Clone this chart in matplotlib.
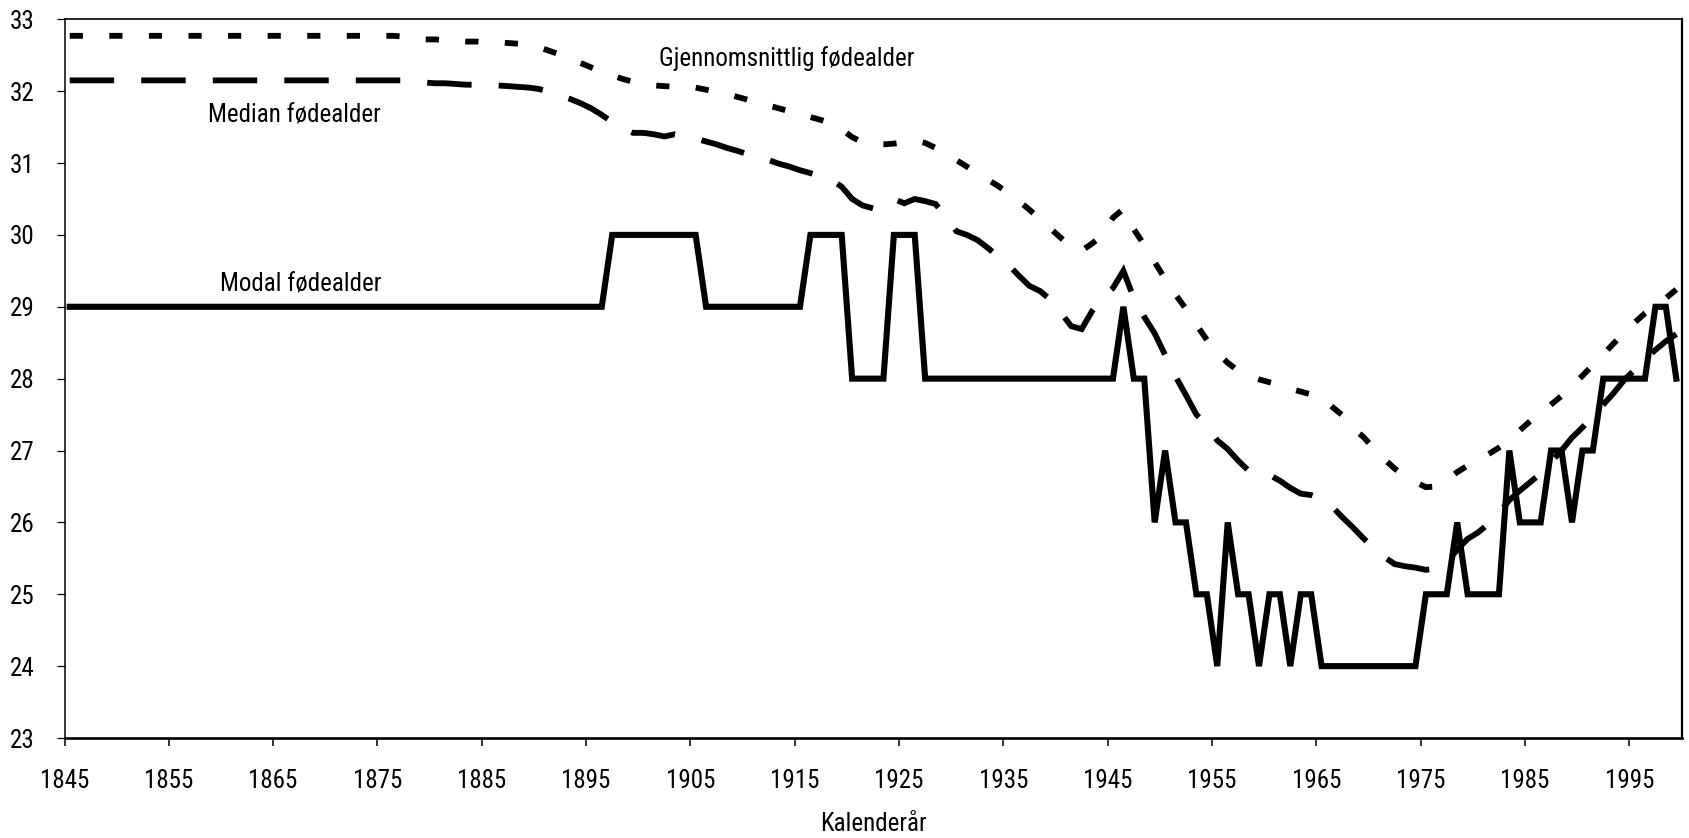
import numpy as np
import matplotlib
matplotlib.use('Agg')
import matplotlib.pyplot as plt
from matplotlib import font_manager as fm

plt.rcParams['lines.scale_dashes'] = False

# Kalenderår 1845-1999
years = np.arange(1845, 2000)

gjennomsnitt = [
    32.77, 32.77, 32.77, 32.77, 32.77, 32.77, 32.77, 32.77, 32.77, 32.77,  # 1845-
    32.77, 32.77, 32.77, 32.77, 32.77, 32.77, 32.77, 32.77, 32.77, 32.77,  # 1855-
    32.77, 32.77, 32.77, 32.77, 32.77, 32.77, 32.77, 32.77, 32.77, 32.77,  # 1865-
    32.77, 32.77, 32.76, 32.74, 32.72, 32.72, 32.71, 32.70, 32.69, 32.69,  # 1875-
    32.68, 32.68, 32.67, 32.66, 32.64, 32.61, 32.56, 32.51, 32.45, 32.39,  # 1885-
    32.33, 32.27, 32.22, 32.17, 32.13, 32.10, 32.08, 32.07, 32.06, 32.05,  # 1895-
    32.05, 32.02, 31.99, 31.96, 31.92, 31.88, 31.84, 31.80, 31.76, 31.72,  # 1905-
    31.68, 31.64, 31.60, 31.55, 31.47, 31.36, 31.29, 31.26, 31.26, 31.27,  # 1915-
    31.29, 31.31, 31.28, 31.21, 31.13, 31.04, 30.95, 30.86, 30.77, 30.68,  # 1925-
    30.58, 30.47, 30.35, 30.22, 30.09, 29.96, 29.83, 29.78, 29.88, 30.00,  # 1935-
    30.24, 30.36, 30.08, 29.86, 29.62, 29.39, 29.17, 28.97, 28.75, 28.54,  # 1945-
    28.36, 28.22, 28.11, 28.04, 27.99, 27.95, 27.91, 27.86, 27.82, 27.78,  # 1955-
    27.74, 27.61, 27.49, 27.31, 27.19, 27.03, 26.88, 26.75, 26.64, 26.56,  # 1965-
    26.49, 26.50, 26.59, 26.70, 26.79, 26.87, 26.95, 27.04, 27.14, 27.28,  # 1975-
    27.41, 27.52, 27.64, 27.76, 27.90, 28.04, 28.19, 28.34, 28.49, 28.64,  # 1985-
    28.78, 28.91, 29.02, 29.12, 29.24,                                     # 1995-
]

median = [
    32.15, 32.15, 32.15, 32.15, 32.15, 32.15, 32.15, 32.15, 32.15, 32.15,  # 1845-
    32.15, 32.15, 32.15, 32.15, 32.15, 32.15, 32.15, 32.15, 32.15, 32.15,  # 1855-
    32.15, 32.15, 32.15, 32.15, 32.15, 32.15, 32.15, 32.15, 32.15, 32.15,  # 1865-
    32.15, 32.15, 32.15, 32.13, 32.12, 32.11, 32.11, 32.10, 32.09, 32.09,  # 1875-
    32.08, 32.08, 32.07, 32.06, 32.05, 32.03, 31.99, 31.94, 31.89, 31.83,  # 1885-
    31.76, 31.67, 31.57, 31.48, 31.42, 31.42, 31.40, 31.37, 31.40, 31.37,  # 1895-
    31.34, 31.30, 31.26, 31.21, 31.17, 31.12, 31.08, 31.04, 30.99, 30.95,  # 1905-
    30.90, 30.86, 30.81, 30.77, 30.67, 30.50, 30.41, 30.37, 30.42, 30.50,  # 1915-
    30.44, 30.50, 30.47, 30.43, 30.25, 30.05, 30.00, 29.93, 29.82, 29.70,  # 1925-
    29.58, 29.43, 29.29, 29.22, 29.10, 28.92, 28.73, 28.69, 28.94, 29.13,  # 1935-
    29.26, 29.50, 29.12, 28.86, 28.63, 28.33, 28.03, 27.77, 27.50, 27.35,  # 1945-
    27.14, 27.02, 26.86, 26.72, 26.68, 26.66, 26.58, 26.48, 26.40, 26.38,  # 1955-
    26.33, 26.22, 26.07, 25.93, 25.78, 25.64, 25.52, 25.42, 25.39, 25.37,  # 1965-
    25.34, 25.36, 25.45, 25.62, 25.77, 25.86, 25.98, 26.13, 26.31, 26.44,  # 1975-
    26.56, 26.68, 26.84, 27.00, 27.18, 27.32, 27.48, 27.64, 27.80, 27.98,  # 1985-
    28.12, 28.27, 28.40, 28.52, 28.62,                                     # 1995-
]

modal = [
    29, 29, 29, 29, 29, 29, 29, 29, 29, 29,  # 1845-
    29, 29, 29, 29, 29, 29, 29, 29, 29, 29,  # 1855-
    29, 29, 29, 29, 29, 29, 29, 29, 29, 29,  # 1865-
    29, 29, 29, 29, 29, 29, 29, 29, 29, 29,  # 1875-
    29, 29, 29, 29, 29, 29, 29, 29, 29, 29,  # 1885-
    29, 29, 30, 30, 30, 30, 30, 30, 30, 30,  # 1895-
    30, 29, 29, 29, 29, 29, 29, 29, 29, 29,  # 1905-
    29, 30, 30, 30, 30, 28, 28, 28, 28, 30,  # 1915-
    30, 30, 28, 28, 28, 28, 28, 28, 28, 28,  # 1925-
    28, 28, 28, 28, 28, 28, 28, 28, 28, 28,  # 1935-
    28, 29, 28, 28, 26, 27, 26, 26, 25, 25,  # 1945-
    24, 26, 25, 25, 24, 25, 25, 24, 25, 25,  # 1955-
    24, 24, 24, 24, 24, 24, 24, 24, 24, 24,  # 1965-
    25, 25, 25, 26, 25, 25, 25, 25, 27, 26,  # 1975-
    26, 26, 27, 27, 26, 27, 27, 28, 28, 28,  # 1985-
    28, 28, 29, 29, 28,                      # 1995-
]

tick_years = [1845, 1855, 1865, 1875, 1885, 1895, 1905, 1915, 1925, 1935,
              1945, 1955, 1965, 1975, 1985, 1995]

# finn en smal skrift (Arial Narrow-lignende) hvis den finnes
fs = 18.0
stretch = 'normal'
family = None
names = {f.name for f in fm.fontManager.ttflist}
for cand in ['Liberation Sans Narrow', 'Arial Narrow', 'Roboto Condensed',
             'Open Sans Condensed', 'DejaVu Sans Condensed']:
    if cand in names:
        family = cand
        break
if family is None:
    for f in fm.fontManager.ttflist:
        if f.name in ('DejaVu Sans', 'Roboto', 'Open Sans', 'Noto Sans') and \
                str(f.stretch) in ('condensed', 'semi-condensed', '75', '87'):
            family = f.name
            stretch = 'condensed'
            break
if family is None:
    family = 'Liberation Sans'
    fs = 16.5

plt.rcParams['font.family'] = [family, 'DejaVu Sans']
plt.rcParams['font.stretch'] = stretch

fig = plt.figure(figsize=(16.89, 8.38), dpi=100)
ax = fig.add_axes([64.5 / 1689, 1 - 738 / 838, (1681.5 - 64.5) / 1689, (738 - 19.3) / 838])

# Excel plasserer punktene midt i hver kategori
x = years + 0.5

ax.plot(x, gjennomsnitt, color='black', lw=4.2, linestyle=(0, (9.5, 19.0)),
        dash_capstyle='butt', dash_joinstyle='miter')
ax.plot(x, median, color='black', lw=4.2, linestyle=(0, (32.0, 19.5)),
        dash_capstyle='butt', dash_joinstyle='miter')
ax.plot(x, modal, color='black', lw=4.4, solid_joinstyle='miter',
        solid_capstyle='projecting')

ax.set_xlim(1845, 2000)
ax.set_ylim(23, 33)
ax.set_xticks(tick_years)
ax.set_yticks(range(23, 34))

ax.tick_params(axis='both', direction='out', length=5.8, width=0.9,
               labelsize=fs, pad=15.5, color='black')
ax.tick_params(axis='x', width=1.1, pad=16.5)

ax.spines['left'].set_linewidth(1.1)
ax.spines['bottom'].set_linewidth(1.9)
ax.spines['top'].set_linewidth(1.2)
ax.spines['right'].set_linewidth(1.6)

ax.set_xlabel('Kalenderår', fontsize=fs, labelpad=14)

ax.text(1902.0, 32.357, 'Gjennomsnittlig fødealder', fontsize=fs, ha='left', va='baseline')
ax.text(1858.8, 31.565, 'Median fødealder', fontsize=fs, ha='left', va='baseline')
ax.text(1859.9, 29.213, 'Modal fødealder', fontsize=fs, ha='left', va='baseline')

plt.savefig('out.png', dpi=100)
